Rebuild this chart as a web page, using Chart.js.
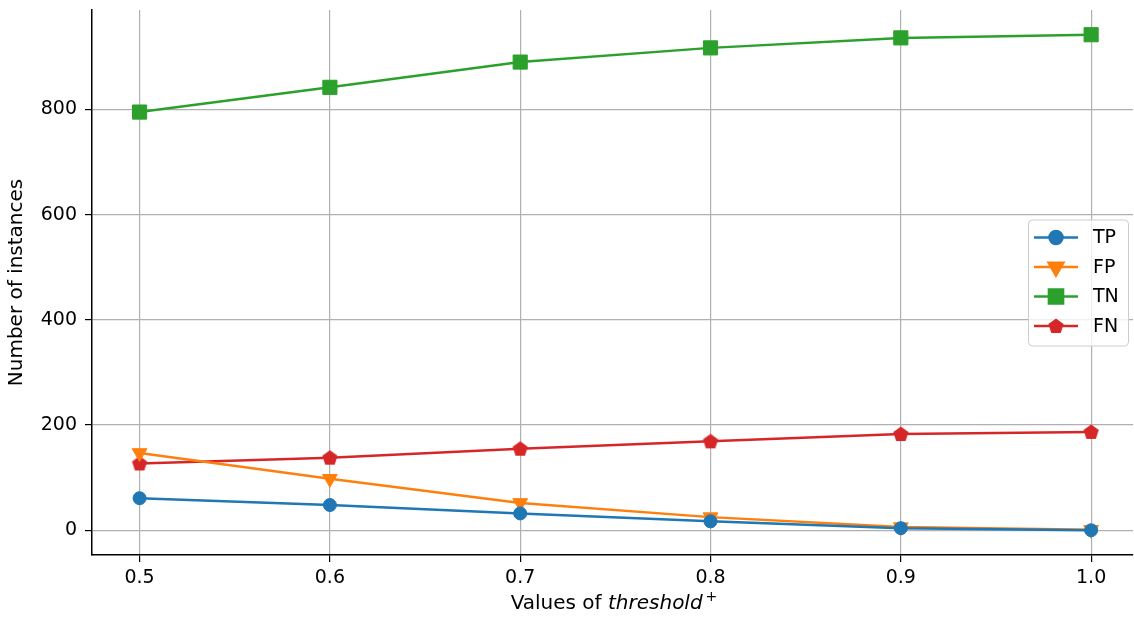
<!DOCTYPE html>
<html>
<head>
<meta charset="utf-8">
<script src="https://cdn.jsdelivr.net/npm/chart.js@4/dist/chart.umd.min.js"></script>
<style>
  html, body { margin: 0; padding: 0; background: #fff; }
  #wrap { width: 1134px; height: 617px; }
</style>
</head>
<body>
<div id="wrap"><canvas id="chart" width="1134" height="617"></canvas></div>
<script>
// data
const thresholds = [0.5, 0.6, 0.7, 0.8, 0.9, 1.0];
const tpValues = [61, 48, 32, 17, 4, 0];
const fpValues = [147, 98, 52, 25, 6, 1];
const tnValues = [795, 842, 890, 917, 936, 942];
const fnValues = [127, 138, 155, 169, 183, 187];
const xTicks = [0.5, 0.6, 0.7, 0.8, 0.9, 1.0];
const yTicks = [0, 200, 400, 600, 800];

const FONT = "'DejaVu Sans', sans-serif";
const FS = 19;

// pentagon marker (no built-in one in Chart.js)
function makePentagon(color, r) {
    const c = document.createElement("canvas");
    const s = Math.ceil(r * 2 + 2);
    c.width = s; c.height = s;
    const g = c.getContext("2d");
    g.beginPath();
    for (let i = 0; i < 5; i++) {
        const a = -Math.PI / 2 + i * 2 * Math.PI / 5;
        const px = s / 2 + r * Math.cos(a);
        const py = s / 2 + 0.5 + r * Math.sin(a);
        if (i === 0) g.moveTo(px, py); else g.lineTo(px, py);
    }
    g.closePath();
    g.fillStyle = color;
    g.fill();
    return c;
}

const pentagon = makePentagon("#d62728", 8);

function series(label, values, color, style, radius, rotation) {
    return {
        label,
        data: thresholds.map((x, i) => ({ x, y: values[i] })),
        borderColor: color,
        backgroundColor: color,
        borderWidth: 2.5,
        pointStyle: style,
        pointRadius: radius,
        pointHoverRadius: radius,
        pointRotation: rotation || 0,
        pointBorderWidth: 1,
        tension: 0,
        clip: false
    };
}

const datasets = [
    series("TP", tpValues, "#1f77b4", "circle", 6.5),
    series("FP", fpValues, "#ff7f0e", "triangle", 8.5, 180),
    series("TN", tnValues, "#2ca02c", "rect", 10),
    series("FN", fnValues, "#d62728", pentagon, 8)
];

// legend inside the plot, right middle
const innerLegend = {
    id: "innerLegend",
    afterDatasetsDraw(chart) {
        const ctx = chart.ctx;
        const area = chart.chartArea;
        const w = 100, h = 126;
        const x0 = area.right - 5 - w;
        const y0 = (area.top + area.bottom) / 2 - h / 2;
        ctx.save();
        ctx.fillStyle = "rgba(255,255,255,0.8)";
        ctx.strokeStyle = "#cccccc";
        ctx.lineWidth = 1;
        ctx.beginPath();
        ctx.roundRect(x0 + 0.5, y0 + 0.5, w, h, 4);
        ctx.fill();
        ctx.stroke();
        ctx.font = FS + "px " + FONT;
        ctx.textBaseline = "middle";
        chart.data.datasets.forEach((ds, i) => {
            const cy = y0 + 18 + i * 29.5;
            ctx.strokeStyle = ds.borderColor;
            ctx.lineWidth = ds.borderWidth;
            ctx.beginPath();
            ctx.moveTo(x0 + 6, cy);
            ctx.lineTo(x0 + 50, cy);
            ctx.stroke();
            ctx.fillStyle = ds.backgroundColor;
            Chart.helpers.drawPoint(ctx, {
                pointStyle: ds.pointStyle,
                radius: ds.pointRadius,
                rotation: ds.pointRotation,
                borderWidth: 1
            }, x0 + 28, cy);
            ctx.fillStyle = "#000";
            ctx.fillText(ds.label, x0 + 65, cy + 1);
        });
        ctx.restore();
    }
};

// x axis title with italic part and superscript
const xTitle = {
    id: "xTitle",
    afterDraw(chart) {
        const ctx = chart.ctx;
        const area = chart.chartArea;
        const parts = [
            { t: "Values of ", f: "20px " + FONT, dy: 0 },
            { t: "threshold", f: "italic 20px " + FONT, dy: 0 },
            { t: "+", f: "14px " + FONT, dy: -8 }
        ];
        ctx.save();
        let total = 0;
        parts.forEach(p => { ctx.font = p.f; p.w = ctx.measureText(p.t).width; total += p.w; });
        let x = (area.left + area.right) / 2 - total / 2;
        const y = 609;
        ctx.fillStyle = "#000";
        ctx.textBaseline = "alphabetic";
        parts.forEach(p => {
            ctx.font = p.f;
            ctx.fillText(p.t, x, y + p.dy);
            x += p.w + (p.t === "threshold" ? 3 : 0);
        });
        ctx.restore();
    }
};

new Chart(document.getElementById("chart"), {
    type: "line",
    data: { datasets },
    plugins: [innerLegend, xTitle],
    options: {
        responsive: false,
        animation: false,
        devicePixelRatio: 1,
        layout: { autoPadding: false, padding: { top: 10, right: 1, left: 0, bottom: 0 } },
        plugins: {
            legend: { display: false },
            tooltip: { enabled: false }
        },
        scales: {
            x: {
                type: "linear",
                min: 0.475,
                max: 1.022,
                afterBuildTicks: s => { s.ticks = xTicks.map(v => ({ value: v })); },
                afterFit: s => { s.height = 62; s.paddingLeft = 0; s.paddingRight = 0; },
                grid: { color: "#b0b0b0", lineWidth: 1.2, tickLength: 7, tickColor: "#000", tickWidth: 1.2 },
                border: { color: "#000", width: 1.5 },
                ticks: {
                    color: "#000",
                    font: { family: FONT, size: FS },
                    padding: 5,
                    maxRotation: 0,
                    callback: v => v.toFixed(1)
                }
            },
            y: {
                min: -47,
                max: 989,
                afterBuildTicks: s => { s.ticks = yTicks.map(v => ({ value: v })); },
                afterFit: s => { s.width = 92; s.paddingTop = 0; s.paddingBottom = 0; },
                grid: { color: "#b0b0b0", lineWidth: 1.2, tickLength: 7, tickColor: "#000", tickWidth: 1.2 },
                border: { color: "#000", width: 1.5 },
                title: {
                    display: true,
                    text: "Number of instances",
                    color: "#000",
                    font: { family: FONT, size: 20 },
                    padding: { top: 5, bottom: 0 }
                },
                ticks: {
                    color: "#000",
                    font: { family: FONT, size: FS },
                    padding: 8
                }
            }
        }
    }
});
</script>
</body>
</html>
